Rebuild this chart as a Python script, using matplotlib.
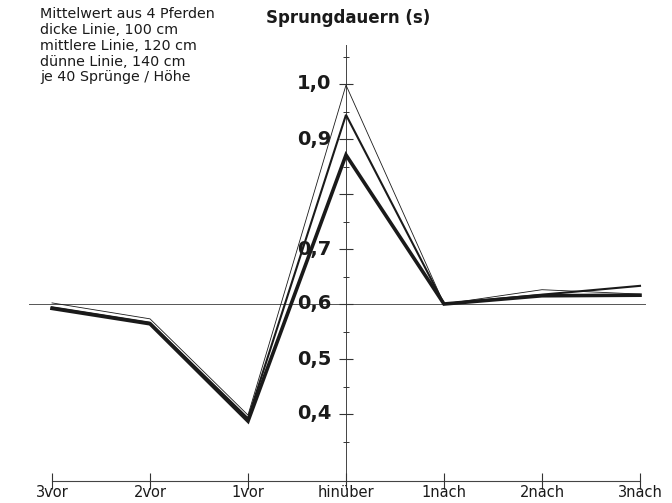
import matplotlib.pyplot as plt
import numpy as np

# Sprungdauern in s, Mittelwert aus 4 Pferden
categories = ['3vor', '2vor', '1vor', 'hinüber', '1nach', '2nach', '3nach']
dauer_100 = [0.592, 0.564, 0.387, 0.871, 0.600, 0.615, 0.616]   # dicke Linie
dauer_120 = [0.594, 0.566, 0.392, 0.944, 0.600, 0.617, 0.633]   # mittlere Linie
dauer_140 = [0.602, 0.573, 0.398, 0.998, 0.600, 0.626, 0.618]   # dünne Linie

y_major = [0.4, 0.5, 0.6, 0.7, 0.8, 0.9, 1.0]
y_minor = [0.35, 0.45, 0.55, 0.65, 0.75, 0.85, 0.95, 1.05]
y_ticklabels = ['0,4', '0,5', '0,6', '0,7', '', '0,9', '1,0']

info = ("Mittelwert aus 4 Pferden\n"
        "dicke Linie, 100 cm\n"
        "mittlere Linie, 120 cm\n"
        "dünne Linie, 140 cm\n"
        "je 40 Sprünge / Höhe")

ink = '#1a1a1a'

fig = plt.figure(figsize=(6.72, 5.03), dpi=100)
ax = fig.add_axes([0, 0, 1, 1])
ax.set_xlim(-52 / 98, 620 / 98)
ax.set_ylim(0.6 - 199 / 550, 0.6 + 304 / 550)
ax.axis('off')

x = np.arange(len(categories))
x_bottom = 0.278
y_center = len(categories) // 2

# reference line at 0.6
ax.plot([-0.235, 6.05], [0.6, 0.6], color='#555555', lw=0.7, zorder=1)

# vertical value axis through "hinüber"
ax.plot([y_center, y_center], [x_bottom, 1.071], color='#444444', lw=0.7, zorder=1)
ax.plot([y_center] * len(y_major), y_major, ls='none', marker='_', ms=10,
        mew=0.8, color='#333333', zorder=1)
ax.plot([y_center] * len(y_minor), y_minor, ls='none', marker='_', ms=5,
        mew=0.7, color='#333333', zorder=1)
for v, lab in zip(y_major, y_ticklabels):
    ax.text(y_center - 15 / 98, v, lab, ha='right', va='center',
            fontsize=14, fontweight='bold', color=ink)

# bottom category axis
ax.plot([x[0], x[-1]], [x_bottom, x_bottom], color='#444444', lw=0.8, zorder=1)
ax.plot(x, [x_bottom] * len(x), ls='none', marker='|', ms=11, mew=0.8,
        color='#333333', zorder=1)
for xi, lab in zip(x, categories):
    ax.text(xi, 0.258, lab, ha='center', va='center', fontsize=10.5, color=ink)

# data lines
ax.plot(x, dauer_100, color=ink, lw=2.6, solid_joinstyle='miter', zorder=3)
ax.plot(x, dauer_120, color=ink, lw=1.5, solid_joinstyle='miter', zorder=3)
ax.plot(x, dauer_140, color=ink, lw=0.6, solid_joinstyle='miter', zorder=3)

fig.text(348 / 672, 1 - 18 / 503, 'Sprungdauern (s)', ha='center', va='center',
         fontsize=12, fontweight='bold', color=ink)
fig.text(40 / 672, 1 - 7 / 503, info, ha='left', va='top', fontsize=10.3,
         linespacing=1.17, color=ink)

fig.savefig('out.png', dpi=100)
